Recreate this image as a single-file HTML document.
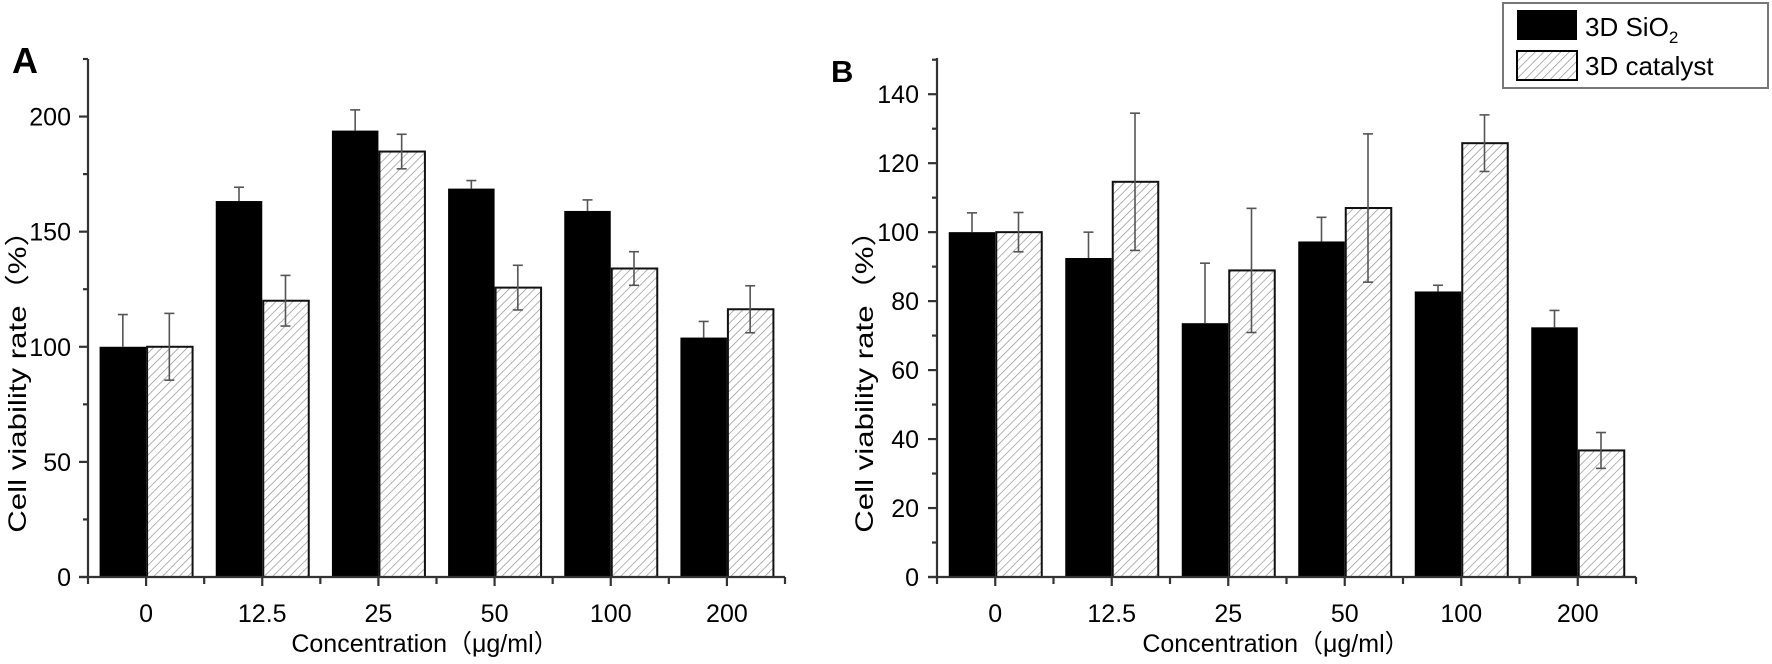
<!DOCTYPE html>
<html><head><meta charset="utf-8"><style>
html,body{margin:0;padding:0;background:#fff;}
svg{display:block;font-family:"Liberation Sans","Noto Sans CJK SC",sans-serif;}
</style></head><body>
<svg id="fig" width="1772" height="664" viewBox="0 0 1772 664" xmlns="http://www.w3.org/2000/svg">
<defs>
<pattern id="hatch" patternUnits="userSpaceOnUse" width="6" height="6" patternTransform="rotate(45)">
<rect width="6" height="6" fill="#fff"/>
<line x1="0" y1="0" x2="0" y2="6" stroke="#8a8a8a" stroke-width="1.3"/>
</pattern>
</defs>
<text x="12" y="73" font-size="36" font-weight="bold">A</text>
<text x="831" y="82" font-size="31" font-weight="bold">B</text>
<g>
<rect x="1503" y="3" width="265" height="85" fill="#fff" stroke="#777" stroke-width="2"/>
<rect x="1517" y="10" width="60" height="30" fill="#000"/>
<text x="1585" y="36" font-size="26">3D SiO<tspan font-size="17" dy="7">2</tspan></text>
<rect x="1517" y="51" width="60" height="29" fill="url(#hatch)" stroke="#000" stroke-width="2"/>
<text x="1585" y="75" font-size="26">3D catalyst</text>
</g>
<g id="pa"></g>
<g id="pb"></g>
</svg>
<script>
const categories = ["0","12.5","25","50","100","200"];
const aSio2 = [100, 163.3, 193.9, 168.7, 159, 104];
const aSio2Err = [14, 6, 9, 3.5, 4.8, 7];
const aCat = [100, 120, 184.8, 125.7, 134, 116.3];
const aCatErr = [14.5, 11, 7.5, 9.7, 7.3, 10.2];
const aTicks = [0, 50, 100, 150, 200];
const bSio2 = [100, 92.5, 73.6, 97.3, 82.8, 72.4];
const bSio2Err = [5.6, 7.5, 17.4, 7, 1.8, 4.9];
const bCat = [100, 114.6, 88.9, 107, 125.8, 36.7];
const bCatErr = [5.7, 19.9, 18, 21.5, 8.2, 5.2];
const bTicks = [0, 20, 40, 60, 80, 100, 120, 140];

const NS = "http://www.w3.org/2000/svg";
function mk(parent, tag, attrs, text){
  const e = document.createElementNS(NS, tag);
  for (const k in attrs) e.setAttribute(k, attrs[k]);
  if (text !== undefined) e.textContent = text;
  parent.appendChild(e);
  return e;
}
function panel(g, cfg){
  const {x0, x1, y0, yTop, vMax, ticks, minorStep, s1, e1, s2, e2, tickLabelRight, yLabelX, titleX} = cfg;
  const yScale = v => y0 - (v / vMax) * (y0 - yTop);
  const band = (x1 - x0) / categories.length;
  const xCenter = i => x0 + band * (i + 0.5);
  const bw = 46.5;
  categories.forEach((c, i) => {
    const cx = xCenter(i);
    const b1 = mk(g, "rect", {x: cx - bw, y: yScale(s1[i]), width: bw, height: y0 - yScale(s1[i]), fill: "#000"});
    
    
    const b2 = mk(g, "rect", {x: cx + 1, y: yScale(s2[i]), width: bw - 1, height: y0 - yScale(s2[i]), fill: "url(#hatch)", stroke: "#111", "stroke-width": 2});
    
    
    [[cx - bw / 2, s1[i], e1[i], 'sio2', false], [cx + bw / 2, s2[i], e2[i], 'catalyst', true]].forEach(([ex, v, e, nm, both]) => {
      const eg = mk(g, "g", {stroke: "#555", "stroke-width": 1.6});
      
      
      const yt = yScale(v + e), yb = yScale(v - e), yv = yScale(v);
      mk(eg, "line", {x1: ex, x2: ex, y1: yt, y2: both ? yb : yv});
      mk(eg, "line", {x1: ex - 5, x2: ex + 5, y1: yt, y2: yt});
      if (both) mk(eg, "line", {x1: ex - 5, x2: ex + 5, y1: yb, y2: yb});
    });
    const tl = mk(g, "text", {x: cx, y: 622, "font-size": 25, "text-anchor": "middle"}, c);
    
    
  });
  const ax = mk(g, "g", {stroke: "#333", "stroke-width": 2.2, fill: "none"});
  
  
  mk(ax, "line", {x1: x0, x2: x0, y1: yTop, y2: y0 + 1});
  mk(ax, "line", {x1: x0 - 9, x2: x1, y1: y0, y2: y0});
  for (let i = 0; i <= categories.length; i++) {
    mk(ax, "line", {x1: x0 + band * i, x2: x0 + band * i, y1: y0, y2: y0 + 7});
    if (i < categories.length) mk(ax, "line", {x1: xCenter(i), x2: xCenter(i), y1: y0, y2: y0 + 9});
  }
  for (let v = 0; v <= vMax; v += minorStep) {
    const major = ticks.indexOf(v) >= 0;
    mk(ax, "line", {x1: x0 - (major ? 9 : 5), x2: x0, y1: yScale(v), y2: yScale(v)});
  }
  ticks.forEach(t => {
    const tl = mk(g, "text", {x: tickLabelRight, y: yScale(t) + 9, "font-size": 25, "text-anchor": "end"}, String(t));
    
    
  });
  const yl = mk(g, "text", {x: 0, y: 0, "font-size": 25, "text-anchor": "middle", transform: "translate(" + yLabelX + ",374) rotate(-90) scale(1.25,1)"}, "Cell viability rate（%）");
  
  
  const xt = mk(g, "text", {x: titleX, y: 652, "font-size": 25, "text-anchor": "middle"}, "Concentration（μg/ml）");
  
  
}
panel(document.getElementById("pa"), {x0: 88, x1: 785, y0: 577, yTop: 59, vMax: 225, ticks: aTicks, minorStep: 25,
  s1: aSio2, e1: aSio2Err, s2: aCat, e2: aCatErr, tickLabelRight: 71, yLabelX: 26, titleX: 425});
panel(document.getElementById("pb"), {x0: 937, x1: 1636, y0: 577, yTop: 58, vMax: 150.5, ticks: bTicks, minorStep: 10,
  s1: bSio2, e1: bSio2Err, s2: bCat, e2: bCatErr, tickLabelRight: 919, yLabelX: 873, titleX: 1276});
</script>
</body></html>
